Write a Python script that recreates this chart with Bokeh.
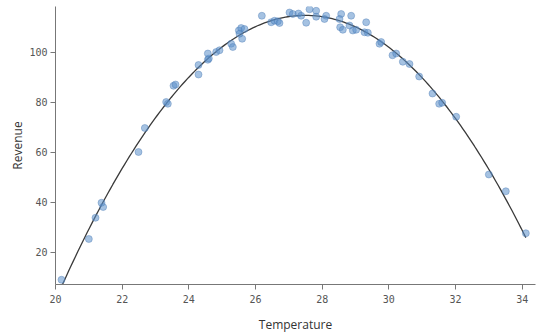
import numpy as np
from bokeh.plotting import figure
from bokeh.models import FixedTicker, Range1d
from bokeh.embed import file_html
from bokeh.resources import INLINE

temperature = [20.18, 21.0, 21.2, 21.38, 21.43, 22.49, 22.68, 23.32, 23.37, 23.54,
               23.6, 24.29, 24.29, 24.57, 24.6, 24.57, 24.82, 24.92, 25.27, 25.32,
               25.5, 25.57, 25.67, 25.6, 25.52, 26.19, 26.47, 26.57, 26.67, 26.72,
               27.02, 27.12, 27.29, 27.37, 27.52, 27.62, 27.82, 27.82, 28.12, 28.07,
               28.57, 28.52, 28.87, 28.54, 28.62, 28.82, 28.92, 29.02, 29.32, 29.27,
               29.37, 29.72, 29.77, 30.11, 30.22, 30.42, 30.62, 30.91, 31.31, 31.51,
               31.6, 32.02, 33.0, 33.51, 34.11]
revenue = [8.9, 25.2, 33.7, 39.7, 38.0, 60.0, 69.6, 80.0, 79.3, 86.5,
           87.0, 91.0, 94.8, 96.9, 97.4, 99.4, 100.0, 100.7, 103.3, 102.0,
           108.6, 109.6, 109.2, 105.3, 107.3, 114.5, 111.9, 112.5, 112.3, 111.6,
           115.8, 115.2, 115.4, 114.5, 111.7, 117.1, 116.5, 114.1, 114.5, 113.2,
           115.2, 113.2, 114.5, 109.9, 108.9, 110.6, 108.6, 108.9, 111.9, 107.9,
           107.7, 103.3, 104.0, 98.7, 99.4, 96.1, 95.2, 90.2, 83.4, 79.3,
           79.7, 74.1, 51.0, 44.3, 27.5]
x_ticks = [20, 22, 24, 26, 28, 30, 32, 34]
y_ticks = [20, 40, 60, 80, 100]

# quadratic regression fitted to the scatter data
coef = np.polyfit(temperature, revenue, 2)
fit_x = np.linspace(min(temperature), max(temperature), 200)
fit_y = np.polyval(coef, fit_x)

p = figure(width=543, height=335, output_backend="svg", toolbar_location=None,
           x_range=Range1d(20, 34.4), y_range=Range1d(7, 118.2),
           min_border_left=55, min_border_right=8, min_border_top=6, min_border_bottom=47)
p.outline_line_color = None
p.xgrid.grid_line_color = None
p.ygrid.grid_line_color = None

p.line(fit_x, fit_y, line_color="#3a3a3a", line_width=1.3)
p.scatter(temperature, revenue, size=7, fill_color="#5b8fcb", fill_alpha=0.55,
          line_color="#4a7ab5", line_alpha=0.4)

for ax, ticks in ((p.xaxis, x_ticks), (p.yaxis, y_ticks)):
    ax.ticker = FixedTicker(ticks=ticks)
    ax.minor_tick_line_color = None
    ax.major_tick_in = 0
    ax.major_tick_out = 5
    ax.axis_line_color = "#777777"
    ax.major_tick_line_color = "#777777"
    ax.major_label_text_font = "DejaVu Sans Mono"
    ax.major_label_text_font_size = "10px"
    ax.major_label_text_color = "#555555"
    ax.axis_label_text_font = "Open Sans"
    ax.axis_label_text_font_size = "12px"
    ax.axis_label_text_font_style = "normal"
    ax.axis_label_text_color = "#333333"

p.xaxis.axis_label = "Temperature"
p.yaxis.axis_label = "Revenue"
p.xaxis.major_label_standoff = 5
p.yaxis.major_label_standoff = 3
p.xaxis.axis_label_standoff = 10
p.yaxis.axis_label_standoff = 0

open("out.html", "w").write(file_html(p, INLINE))
